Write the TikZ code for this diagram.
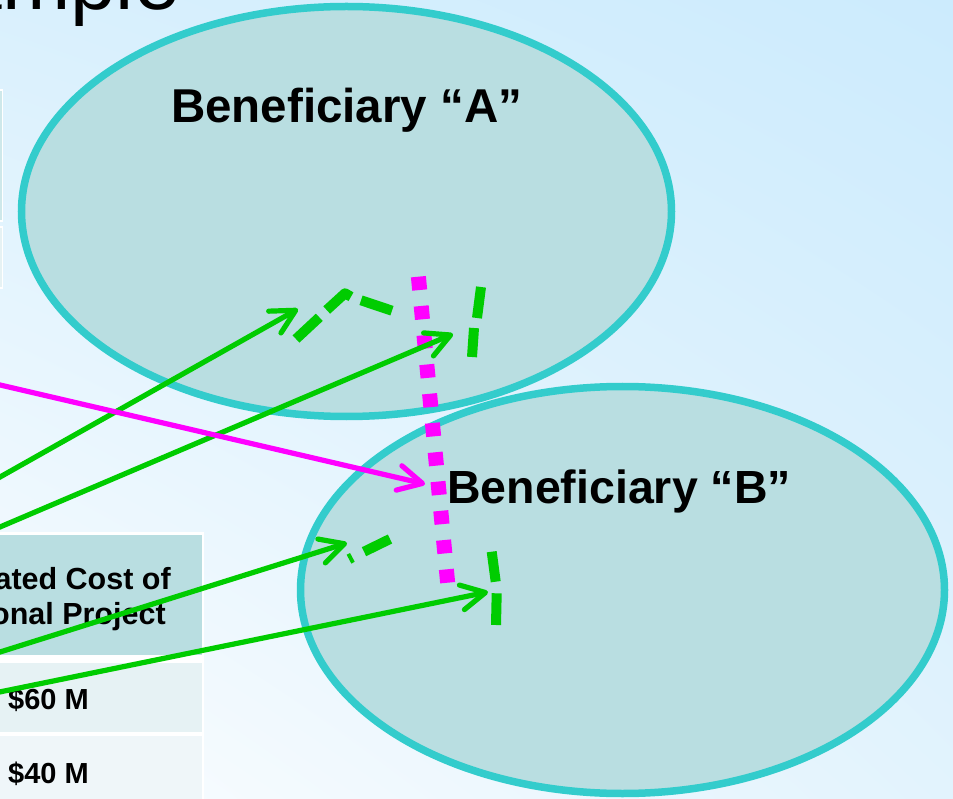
\documentclass[tikz,border=0pt]{standalone}
\usepackage{fontspec}
\setmainfont{Liberation Sans}
\usetikzlibrary{arrows.meta,shapes.geometric,shadings}
\definecolor{bgtl}{HTML}{D9F0FD}
\definecolor{bgtr}{HTML}{CCEBFD}
\definecolor{bgbl}{HTML}{FBFDFF}
\definecolor{bgbr}{HTML}{E2F3FD}
\definecolor{bubfill}{HTML}{B9DEE1}
\definecolor{bubdraw}{HTML}{33CCCC}
\definecolor{grn}{HTML}{00CC00}
\definecolor{mag}{HTML}{FF00FF}
\definecolor{hdrfill}{HTML}{B9DEE1}
\definecolor{rowa}{HTML}{E6F2F4}
\definecolor{rowb}{HTML}{EFF6F9}
\begin{document}
\begin{tikzpicture}[x=1pt,y=-1pt,
  bubble/.style={ellipse, draw=bubdraw, fill=bubfill, line width=7.5pt, inner sep=0pt},
  bentext/.style={inner sep=0pt, font=\fontsize{46.5}{50}\selectfont\bfseries},
  tabtext/.style={inner sep=0pt, font=\fontsize{29}{35}\selectfont\bfseries},
  hdrtext/.style={inner sep=0pt, font=\fontsize{30.5}{35}\selectfont\bfseries},
  garrow/.style={draw=grn, line width=5.2pt, -{Straight Barb[length=24pt,width=25pt,round]}},
  parrow/.style={draw=mag, line width=5.2pt, -{Straight Barb[length=24pt,width=25pt,round]}},
  gdash/.style={draw=grn, line width=10pt, line join=round},
  pinkdot/.style={draw=mag, line width=15pt, dash pattern=on 13.4pt off 16pt}]
\useasboundingbox (0,0) rectangle (953,799);
\clip (0,0) rectangle (953,799);
% background
\shade[upper left=bgtl, upper right=bgtr, lower left=bgbl, lower right=bgbr] (0,0) rectangle (953,799);
% title fragment
\node[anchor=base east, inner sep=0pt, font=\fontsize{82}{90}\selectfont] (title) at (180,10) {Example};
% upper table (mostly off canvas)
\filldraw[fill=hdrfill!70!white, draw=white, line width=1.5pt] (-20,90) rectangle (2.5,221);
\filldraw[fill=rowa, draw=white, line width=1.5pt] (-20,227) rectangle (2.5,288);
% lower table
\fill[white] (-20,532) rectangle (204,810);
\fill[hdrfill] (-20,535) rectangle (201.5,655);
\fill[rowa] (-20,662.5) rectangle (201.5,732);
\fill[rowb] (-20,735.5) rectangle (201.5,810);
\node[hdrtext, anchor=base east] (h1) at (171,589) {Estimated Cost of};
\node[hdrtext, anchor=base east] (h2) at (166,624) {Regional Project};
\node[tabtext, anchor=base west] (v1) at (8,709) {\$60 M};
\node[tabtext, anchor=base west] (v2) at (8,783) {\$40 M};
% beneficiaries
\node[bubble, minimum width=650pt, minimum height=410pt] (A) at (346.5,211.5) {};
\node[bubble, minimum width=644pt, minimum height=407pt] (B) at (622.5,590) {};
\node[bentext, anchor=base west, font=\fontsize{47.5}{50}\selectfont\bfseries] (la) at (171,123) {Beneficiary “A”};
\node[bentext, anchor=base west] (lb) at (447,503) {Beneficiary “B”};
% pink dotted boundary
\coordinate (p1) at (418.4,276.7);
\coordinate (p2) at (447.7,583.3);
\draw[pinkdot] (p1) -- (p2);
% green dashed pieces in A
\draw[gdash] (296,339) -- (319.3,317.3);
\draw[gdash] (326.7,310) -- (345,293.3) -- (351,296.7);
\draw[gdash] (361,300.3) -- (392,310.7);
\draw[gdash] (481,287) -- (477,318);
\draw[gdash] (474,328) -- (472,357);
% green dashed pieces in B
\draw[gdash] (349,559.2) -- (352.4,557.4);
\draw[gdash] (364,551.7) -- (390,539);
\draw[gdash] (491.7,551.7) -- (495.7,581.7);
\draw[gdash] (496.7,593.3) -- (496,625);
% arrows
\coordinate (g1s) at (-20,488.3);
\coordinate (g1e) at (298,309);
\coordinate (g2s) at (-20,535.5);
\coordinate (g2e) at (453,334);
\coordinate (g3s) at (-20,658.3);
\coordinate (g3e) at (347,543);
\coordinate (g4s) at (-20,696);
\coordinate (g4e) at (488,592);
\coordinate (ps) at (-20,380.3);
\coordinate (pe) at (425,484);
\draw[garrow] (g1s) -- (g1e);
\draw[garrow] (g2s) -- (g2e);
\draw[garrow] (g3s) -- (g3e);
\draw[garrow] (g4s) -- (g4e);
\draw[parrow] (ps) -- (pe);
\end{tikzpicture}
\end{document}
